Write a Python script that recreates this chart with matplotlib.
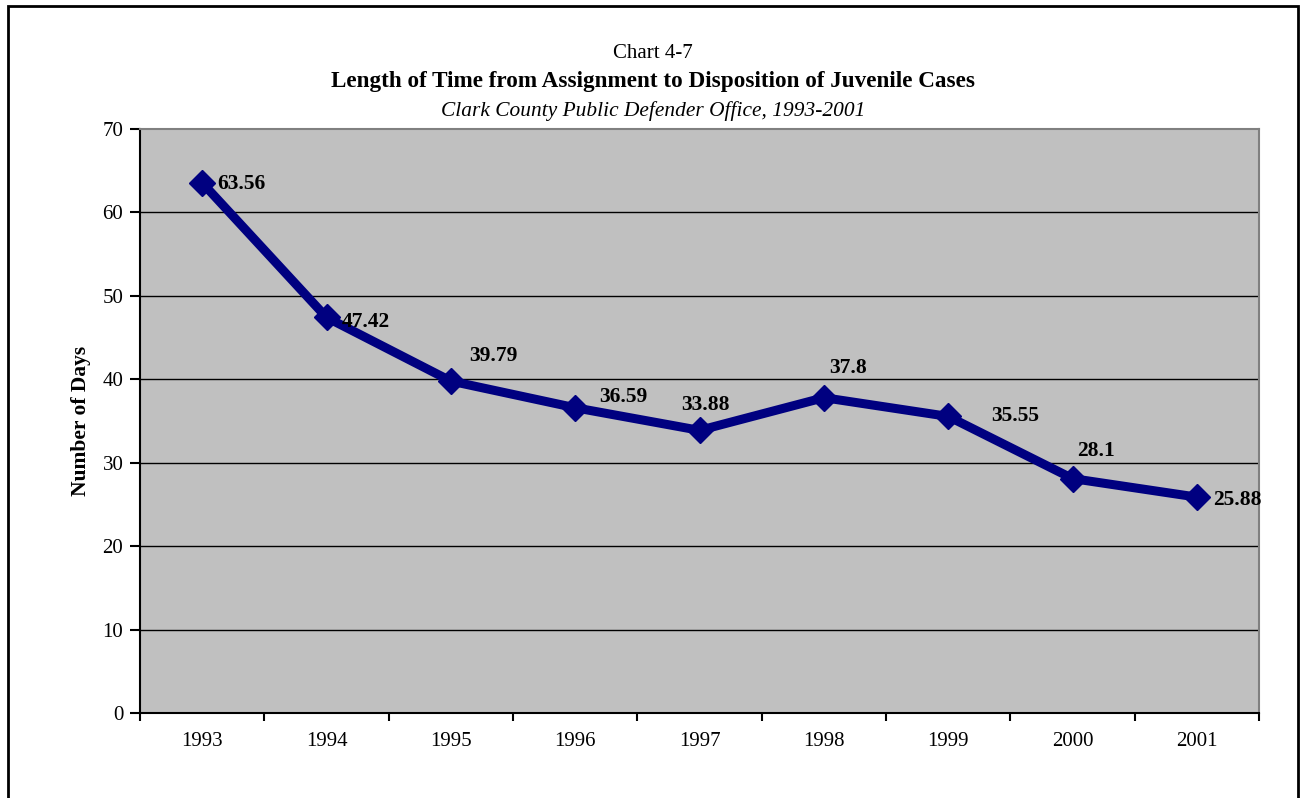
import matplotlib.pyplot as plt
from matplotlib.patches import Rectangle

years = ['1993', '1994', '1995', '1996', '1997', '1998', '1999', '2000', '2001']
days = [63.56, 47.42, 39.79, 36.59, 33.88, 37.8, 35.55, 28.1, 25.88]
y_ticks = [0, 10, 20, 30, 40, 50, 60, 70]

# label offsets in points (dx, dy), like excel placed them
lbl_off = [(11, -1), (11, -3), (13, 18), (17, 8), (-13, 18), (4, 21), (31, 0), (3, 20), (12, -2)]

plt.rcParams['font.family'] = ['Liberation Serif', 'DejaVu Serif']

fig = plt.figure(figsize=(13.06, 7.98), dpi=100)
ax = fig.add_axes([0.1072, 0.1065, 0.8569, 0.7318])
ax.set_facecolor('#c0c0c0')

x = list(range(len(years)))
ax.plot(x, days, color='#000080', lw=6.5, marker='D', ms=13.5, zorder=3)
for i, v in enumerate(days):
    dx, dy = lbl_off[i]
    ax.annotate(f'{v:g}', (i, v), xytext=(dx, dy), textcoords='offset points',
                ha='left', va='center', fontsize=15.5, fontweight='bold', zorder=4)

ax.set_xlim(-0.5, len(years) - 0.5)
ax.set_ylim(0, 70)
ax.set_yticks(y_ticks)
ax.set_yticklabels([str(t) for t in y_ticks], fontsize=15)
ax.set_xticks(x)
ax.set_xticklabels(years, fontsize=15)
ax.tick_params(axis='x', length=0, pad=14)
ax.set_xticks([i - 0.5 for i in range(len(years) + 1)], minor=True)
ax.tick_params(axis='x', which='minor', length=6, width=1.5, direction='out')
ax.tick_params(axis='y', length=7, width=1.5, direction='out', pad=5)

for t in y_ticks[1:-1]:
    ax.axhline(t, color='black', lw=1, zorder=1)

ax.spines['left'].set_linewidth(1.5)
ax.spines['bottom'].set_linewidth(1.5)
ax.spines['top'].set_color('#808080')
ax.spines['right'].set_color('#808080')
ax.spines['top'].set_linewidth(1.5)
ax.spines['right'].set_linewidth(1.5)

ax.set_ylabel('Number of Days', fontsize=15.5, fontweight='bold', labelpad=8)

fig.text(0.5, 1 - 53 / 798, 'Chart 4-7', ha='center', va='center', fontsize=15)
fig.text(0.5, 1 - 82 / 798, 'Length of Time from Assignment to Disposition of Juvenile Cases',
         ha='center', va='center', fontsize=16.7, fontweight='bold')
fig.text(0.5, 1 - 111 / 798, 'Clark County Public Defender Office, 1993-2001',
         ha='center', va='center', fontsize=15.4, style='italic')

# outer chart border
fig.patches.append(Rectangle((8 / 1306, -0.05), 1290 / 1306, 1.05 - 6 / 798,
                             transform=fig.transFigure, fill=False, lw=2, ec='black'))

fig.savefig('out.png', dpi=100)
